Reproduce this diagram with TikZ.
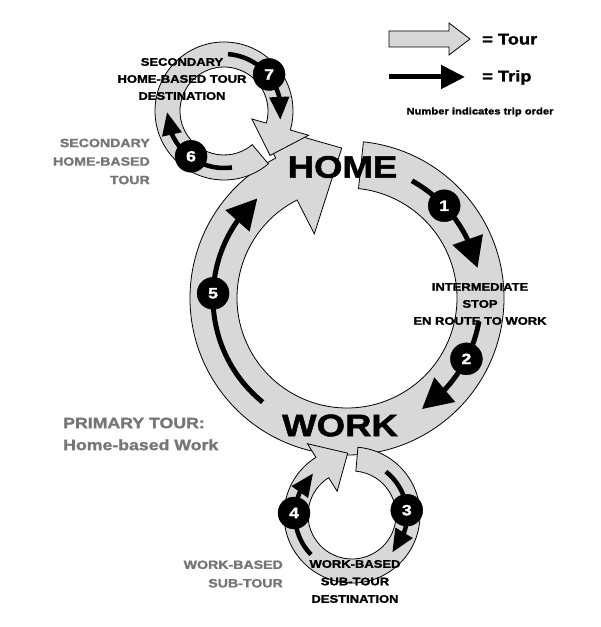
\documentclass[tikz,border=0pt]{standalone}
\usepackage{fontspec}
\newfontfamily\lab{Liberation Sans}[FakeStretch=1.18,BoldFeatures={FakeBold=1.6}]
\usetikzlibrary{arrows.meta,bending}
\definecolor{tourfill}{RGB}{216,216,216}
\definecolor{labgray}{RGB}{118,118,118}
\begin{document}
\begin{tikzpicture}[x=1pt,y=1pt,
  tour/.style={fill=tourfill,draw=black,line width=0.8pt,line join=miter},
  trip/.style={line width=5pt,-{Triangle[length=30pt,width=31pt]}},
  tripsm/.style={line width=4.5pt,-{Triangle[length=23pt,width=19pt]}},
  num/.style={circle,fill=black,draw=black,minimum size=32pt,inner sep=0pt,text=white,font=\lab\bfseries\fontsize{15}{15}\selectfont},
  lbl/.style={inner sep=0pt,font=\lab\bfseries\fontsize{11}{17}\selectfont,align=center},
  glbl/.style={inner sep=0pt,text=labgray,font=\lab\bfseries\fontsize{12}{18.5}\selectfont,align=right},
  big/.style={inner sep=0pt,font=\lab\bfseries\fontsize{31}{31}\selectfont},
  lgd/.style={inner sep=0pt,font=\lab\bfseries\fontsize{15.5}{16}\selectfont}]
\useasboundingbox (0,0) rectangle (601,627);

% ---- primary tour ring ----
\begin{scope}[shift={(347,329)}]
\draw[tour] (84:157) arc[start angle=84,end angle=-243,radius=157pt]
  -- (-243:195) -- (92:150) -- (-243:72) -- (-243:110)
  arc[start angle=-243,end angle=84,radius=110pt] -- cycle;
\end{scope}

% ---- secondary home-based tour ring ----
\begin{scope}[shift={(224,516)}]
\draw[tour] (-50:69) arc[start angle=-50,end angle=-376,radius=69pt]
  -- (-16:88) -- (-44:64) -- (-16:29) -- (-16:44)
  arc[start angle=-376,end angle=-50,radius=44pt] -- cycle;
\end{scope}

% ---- work-based sub-tour ring ----
\begin{scope}[shift={(352,112)}]
\draw[tour] (85:68) arc[start angle=85,end angle=-238,radius=68pt]
  -- (-238:84) -- (94:62) -- (-238:28) -- (-238:44)
  arc[start angle=-238,end angle=85,radius=44pt] -- cycle;
\end{scope}

% ---- trips ----
\begin{scope}[shift={(347,329)}]
\draw[trip] (61:134) arc[start angle=61,end angle=13,radius=134pt];
\draw[trip] (-10:134) arc[start angle=-10,end angle=-56,radius=134pt];
\draw[trip] (231:134) arc[start angle=231,end angle=132,radius=134pt];
\node[num] (t1) at (43.5:134) {1};
\node[num] (t2) at (-27:134) {2};
\node[num] (t5) at (178:134) {5};
\end{scope}
\begin{scope}[shift={(224,516)}]
\draw[tripsm] (-82:57) arc[start angle=-82,end angle=-179,radius=57pt];
\draw[tripsm] (86:57) arc[start angle=86,end angle=-9,radius=57pt];
\node[num] (t6) at (-126:56) {6};
\node[num] (t7) at (39:58) {7};
\end{scope}
\begin{scope}[shift={(352,112)}]
\draw[tripsm] (52:55) arc[start angle=52,end angle=-43,radius=55pt];
\draw[tripsm] (-136:57) arc[start angle=-136,end angle=-227,radius=57pt];
\node[num] (t3) at (5:55) {3};
\node[num] (t4) at (178:58) {4};
\end{scope}

% ---- place labels ----
\node[big] (home) at (342.5,460) {HOME};
\node[big] (work) at (340,201.5) {WORK};

\node[lbl] (secdest) at (182,548) {SECONDARY\\HOME-BASED TOUR\\DESTINATION};
\node[glbl,anchor=east] (secgray) at (150,465.5) {SECONDARY\\HOME-BASED\\TOUR};
\node[lbl] (inter) at (480,323) {INTERMEDIATE\\STOP\\EN ROUTE TO WORK};
\node[inner sep=0pt,text=labgray,align=left,anchor=west,font=\lab\bfseries\fontsize{15}{22}\selectfont] (primary) at (63,193) {PRIMARY TOUR:\\Home-based Work};
\node[glbl,anchor=east] (workgray) at (283,53) {WORK-BASED\\SUB-TOUR};
\node[lbl,font=\lab\bfseries\fontsize{11}{17.5}\selectfont] (workdest) at (355,45.5) {WORK-BASED\\SUB-TOUR\\DESTINATION};

% ---- legend ----
\draw[tour] (389,580) -- (449,580) -- (449,572) -- (470,588) -- (449,604) -- (449,596) -- (389,596) -- cycle;
\node[lgd,anchor=base west] (ltour) at (482,582.5) {= Tour};
\coordinate (ta) at (389,550);
\coordinate (tb) at (465,550);
\draw[line width=5pt,-{Triangle[length=24pt,width=23pt]}] (ta) -- (tb);
\node[lgd,anchor=base west] (ltrip) at (482,545.5) {= Trip};
\node[inner sep=0pt,font=\lab\bfseries\fontsize{9.5}{10}\selectfont] (lnum) at (480,515) {Number indicates trip order};
\end{tikzpicture}
\end{document}
